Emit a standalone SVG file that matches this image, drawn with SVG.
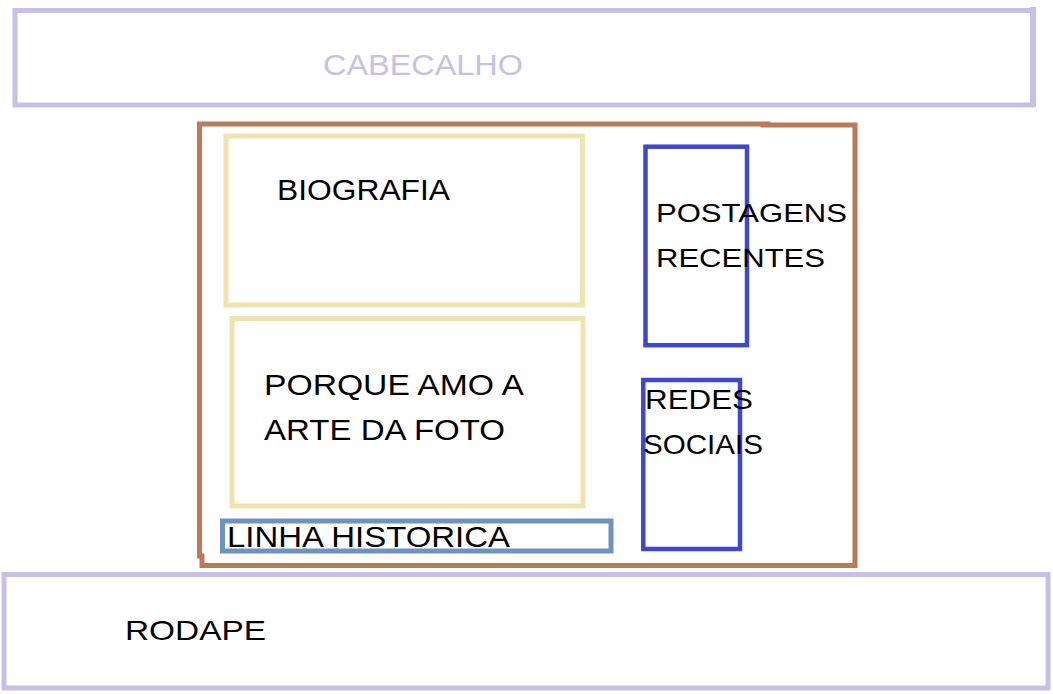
<svg xmlns="http://www.w3.org/2000/svg" width="1053" height="694" viewBox="0 0 1053 694">
<style>
.box{fill:none}
.lav{stroke:#c8bfe7;stroke-width:5}
.brown{stroke:#b97a57;stroke-width:5;fill:none;stroke-linecap:square}
.yel{stroke:#efe4b0;stroke-width:5}
.ind{stroke:#3f48cc;stroke-width:4.5}
.gb{stroke:#7092be;stroke-width:5}
.t{font-family:"Liberation Sans",Arial,sans-serif;fill:#000}
</style>
<rect width="1053" height="694" fill="#fff"/>
<g id="cabecalho">
<rect class="box lav" x="15" y="10.5" width="1018" height="94.5"/>
<line x1="1033" y1="7" x2="1033" y2="106" stroke="#c8bfe7" stroke-width="6"/>
<text class="t" x="323" y="75" font-size="30" fill="#c8bfe7" style="fill:#c8bfe7" textLength="200" lengthAdjust="spacingAndGlyphs">CABECALHO</text>
</g>
<g id="conteudo">
<path class="brown" d="M199.5 556 V124 H768 M763 125 H855 V565.5 H202 V556"/>
</g>
<g id="biografia">
<rect class="box yel" x="226" y="136" width="356.5" height="169"/>
<text class="t" x="277" y="200" font-size="30" textLength="173" lengthAdjust="spacingAndGlyphs">BIOGRAFIA</text>
</g>
<g id="porque">
<rect class="box yel" x="232" y="318.5" width="351" height="187.5"/>
<text class="t" x="264" y="395" font-size="30" textLength="260" lengthAdjust="spacingAndGlyphs">PORQUE AMO A</text>
<text class="t" x="264" y="439.5" font-size="30" textLength="241" lengthAdjust="spacingAndGlyphs">ARTE DA FOTO</text>
</g>
<g id="linha-historica">
<rect class="box gb" x="222.5" y="521" width="388.5" height="30"/>
<text class="t" x="227" y="547" font-size="30" textLength="283" lengthAdjust="spacingAndGlyphs">LINHA HISTORICA</text>
</g>
<g id="postagens">
<rect class="box ind" x="645.5" y="146.7" width="101.5" height="198.5"/>
<text class="t" x="656" y="222" font-size="26" textLength="191" lengthAdjust="spacingAndGlyphs">POSTAGENS</text>
<text class="t" x="656" y="267" font-size="26" textLength="169" lengthAdjust="spacingAndGlyphs">RECENTES</text>
</g>
<g id="redes">
<rect class="box ind" x="643.3" y="380" width="96.7" height="169"/>
<text class="t" x="645" y="408.5" font-size="28" textLength="108" lengthAdjust="spacingAndGlyphs">REDES</text>
<text class="t" x="643" y="453.5" font-size="28" textLength="120" lengthAdjust="spacingAndGlyphs">SOCIAIS</text>
</g>
<g id="rodape">
<rect class="box lav" x="4" y="574.5" width="1044" height="113.5"/>
<text class="t" x="125" y="640" font-size="28" textLength="141" lengthAdjust="spacingAndGlyphs">RODAPE</text>
</g>
</svg>
